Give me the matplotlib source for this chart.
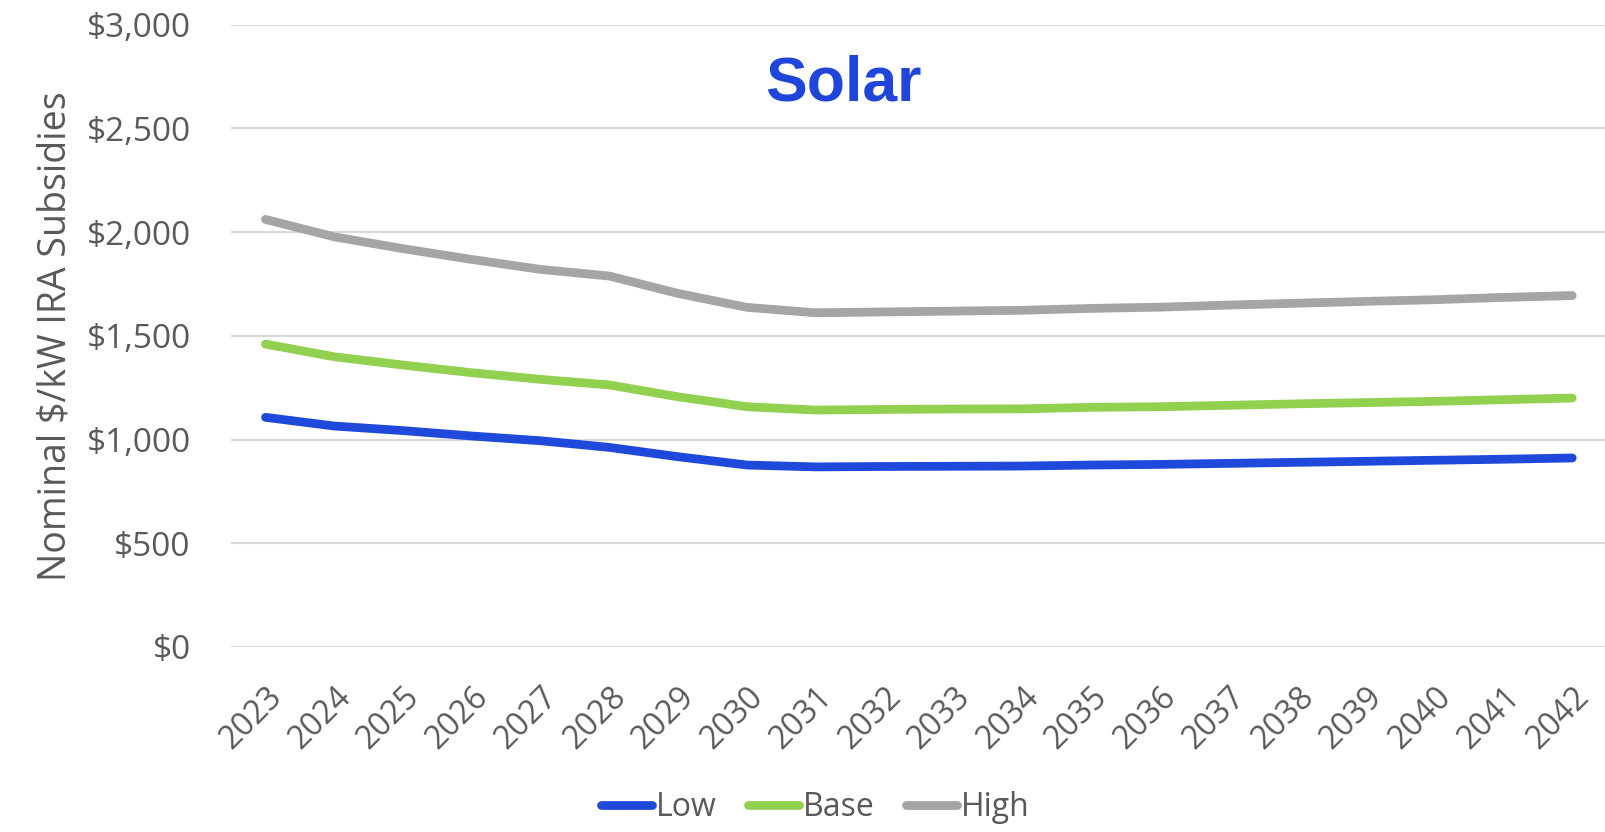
import numpy as np
import matplotlib.pyplot as plt

# IRA subsidy estimates, nominal $/kW
years = list(range(2023, 2043))
low = [1107, 1065, 1043, 1017, 994, 962, 917, 877, 868, 870,
       871, 872, 877, 880, 885, 890, 895, 900, 905, 911]
base = [1460, 1399, 1359, 1322, 1290, 1263, 1206, 1158, 1142, 1145,
        1147, 1148, 1155, 1158, 1165, 1172, 1178, 1184, 1192, 1200]
high = [2061, 1977, 1920, 1868, 1820, 1788, 1704, 1637, 1611, 1615,
        1619, 1623, 1632, 1638, 1648, 1657, 1666, 1674, 1685, 1694]
yticks = [0, 500, 1000, 1500, 2000, 2500, 3000]

plt.rcParams['font.family'] = ['Open Sans', 'DejaVu Sans']
txt = '#595959'

fig = plt.figure(figsize=(16.05, 8.32), dpi=100)
ax = fig.add_axes([0.144, 0.2224, 0.857, 0.748])

x = np.arange(len(years))
for vals, col, name in [(low, '#1F49DB', 'Low'),
                        (base, '#92D050', 'Base'),
                        (high, '#A5A5A5', 'High')]:
    ax.plot(x, vals, color=col, lw=6.3, solid_capstyle='round',
            solid_joinstyle='round', label=name)

ax.set_xlim(-0.5, len(years) - 0.5)
ax.set_ylim(0, 3000)
ax.set_yticks(yticks)
ax.set_yticklabels(['${:,}'.format(v) for v in yticks], fontsize=24, color=txt)
ax.set_xticks(x)
ax.set_xticklabels([str(y) for y in years], rotation=45, ha='right',
                   rotation_mode='anchor', fontsize=23, color=txt)
ax.tick_params(length=0, axis='y', pad=29)
ax.tick_params(length=0, axis='x', pad=24)
ax.grid(axis='y', color='#D9D9D9', lw=1.5)
ax.set_axisbelow(True)
for s in ax.spines.values():
    s.set_visible(False)

ax.set_ylabel('Nominal $/kW IRA Subsidies', fontsize=27, color=txt, labelpad=9)

ax.text(0.445, 0.905, 'Solar', transform=ax.transAxes, ha='center', va='center',
        fontsize=45, fontweight='bold', color='#1F45DB', family='Liberation Sans')

fig.legend(loc='center', bbox_to_anchor=(0.508, 0.029), ncol=3, frameon=False,
           fontsize=23, labelcolor=txt, handlelength=1.6, handletextpad=0.1,
           columnspacing=1.0)

fig.savefig('out.png', dpi=100)
